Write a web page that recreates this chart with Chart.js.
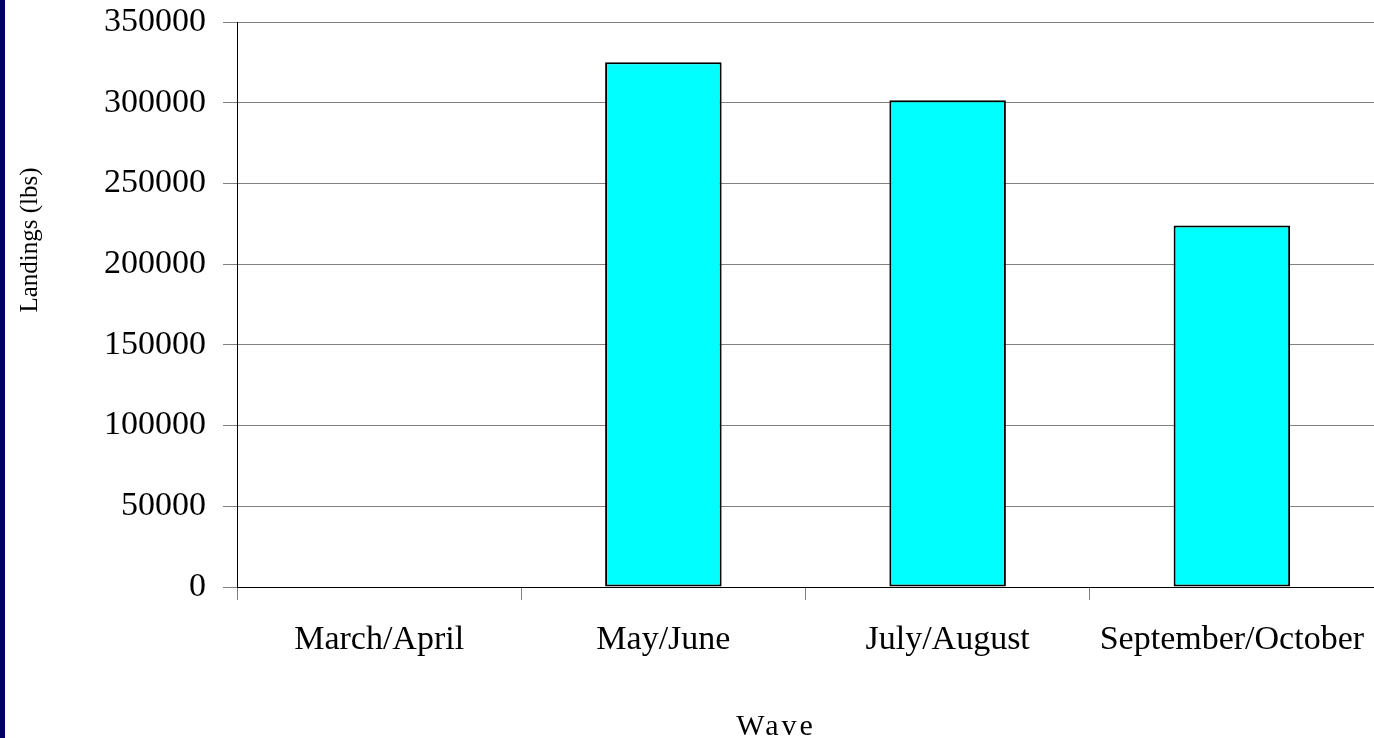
<!DOCTYPE html>
<html>
<head>
<meta charset="utf-8">
<script src="https://cdn.jsdelivr.net/npm/chart.js@4"></script>
<style>
  html, body { margin:0; padding:0; background:#fff; }
  #wrap { position:relative; width:1374px; height:738px; }
  #strip { position:absolute; left:0; top:0; width:5px; height:738px; background:#000066; }
</style>
</head>
<body>
<div id="wrap">
  <canvas id="chart" width="1374" height="738"></canvas>
  <div id="strip"></div>
</div>
<script>
// Landings by wave

// DATA
// ============================================================
const waves    = ['March/April', 'May/June', 'July/August', 'September/October'];
const landings = [0, 325000, 301500, 224000];
const yTicks   = [0, 50000, 100000, 150000, 200000, 250000, 300000, 350000];
const yTitle   = 'Landings (lbs)';
const xTitle   = 'Wave';

const serif = '"Liberation Serif", "Times New Roman", serif';

// axis titles sit off-centre in the original, so draw them by hand
const titlesPlugin = {
  id: 'titles',
  afterDraw(chart) {
    const ctx = chart.ctx;
    ctx.save();
    ctx.fillStyle = '#000';
    ctx.textAlign = 'center';
    ctx.font = `25px ${serif}`;
    ctx.textBaseline = 'middle';
    ctx.translate(30, 240);
    ctx.rotate(-Math.PI / 2);
    ctx.fillText(yTitle, 0, 0);
    ctx.restore();

    ctx.save();
    ctx.fillStyle = '#000';
    ctx.textAlign = 'center';
    ctx.textBaseline = 'alphabetic';
    ctx.font = `30px ${serif}`;
    ctx.letterSpacing = '3px';
    ctx.fillText(xTitle, 776, 735);
    ctx.restore();
  }
};

new Chart(document.getElementById('chart'), {
  type: 'bar',
  data: {
    labels: waves,
    datasets: [{
      label: 'Landings',
      data: landings,
      backgroundColor: '#00FFFF',
      borderColor: '#000',
      borderWidth: 2,
      borderSkipped: false,
      categoryPercentage: 1,
      barPercentage: 0.41,
    }]
  },
  options: {
    responsive: false,
    animation: false,
    layout: { padding: { top: 22, right: 0, bottom: 0, left: 0 } },
    plugins: { legend: { display: false }, tooltip: { enabled: false } },
    scales: {
      x: {
        grid: { offset: true, drawOnChartArea: false, tickLength: 13, color: '#808080' },
        border: { color: '#000', width: 1 },
        ticks: { font: { family: serif, size: 34 }, color: '#000', padding: 20, maxRotation: 0, autoSkip: false },
        afterFit: axis => {
          axis.height = 151;
          axis.paddingLeft = 0;
          axis.paddingRight = 0;
        },
      },
      y: {
        min: 0,
        max: 350000,
        afterBuildTicks: axis => { axis.ticks = yTicks.map(v => ({ value: v })); },
        grid: { color: '#808080', tickLength: 14 },
        border: { color: '#000', width: 1 },
        ticks: { font: { family: serif, size: 34 }, color: '#000', padding: 17, callback: v => String(v) },
        afterFit: axis => {
          axis.width = 237;
          axis.paddingTop = 0;
          axis.paddingBottom = 0;
        },
      }
    }
  },
  plugins: [titlesPlugin]
});
</script>
</body>
</html>
